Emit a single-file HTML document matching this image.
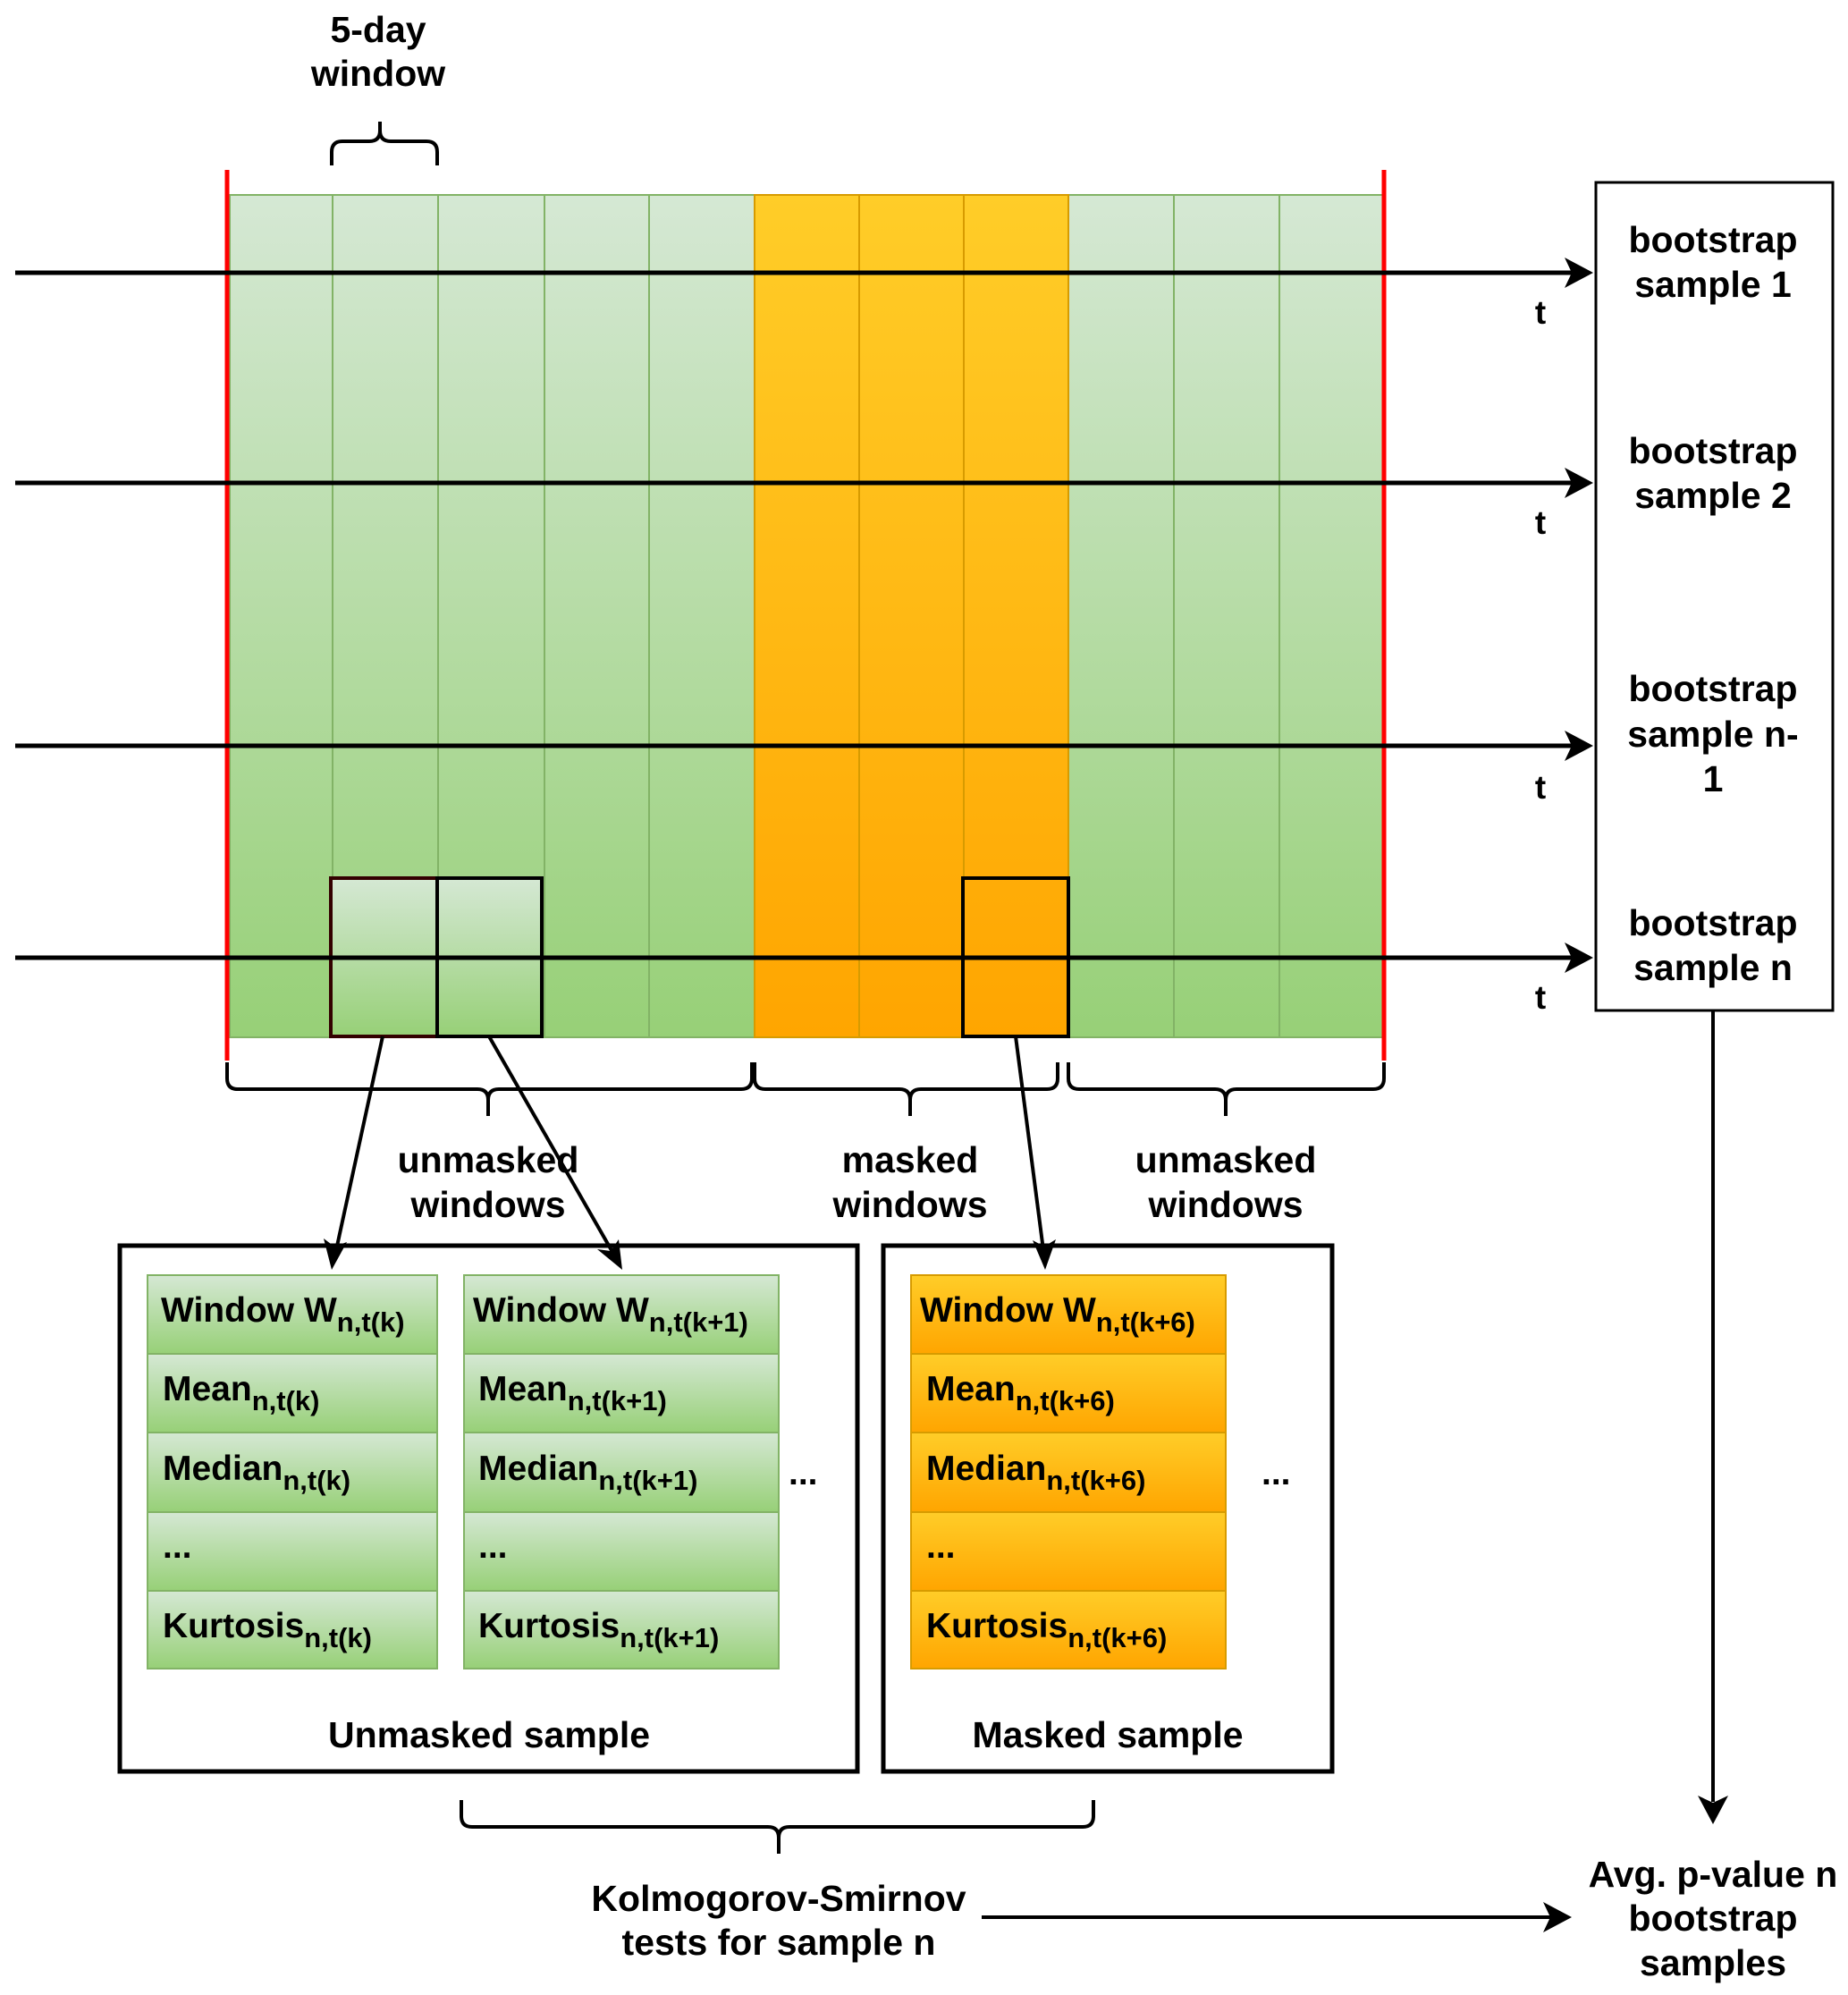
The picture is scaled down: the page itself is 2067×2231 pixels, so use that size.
<!DOCTYPE html>
<html><head><meta charset="utf-8"><style>body{margin:0;background:#fff}svg{display:block}text{font-family:"Liberation Sans",sans-serif;font-weight:bold;fill:#000}</style></head><body>
<svg width="2067" height="2231" viewBox="0 0 2067 2231" xmlns="http://www.w3.org/2000/svg">
<defs>
<linearGradient id="g" x1="0" y1="0" x2="0" y2="1"><stop offset="0" stop-color="#d5e8d4"/><stop offset="1" stop-color="#97d077"/></linearGradient>
<linearGradient id="o" x1="0" y1="0" x2="0" y2="1"><stop offset="0" stop-color="#ffcd28"/><stop offset="1" stop-color="#ffa500"/></linearGradient>
</defs>
<g stroke="#82b366" stroke-width="2">
<rect x="257" y="218" width="587" height="942" fill="url(#g)"/>
<rect x="1195" y="218" width="353" height="942" fill="url(#g)"/>
<line x1="372" y1="218" x2="372" y2="1160"/><line x1="490" y1="218" x2="490" y2="1160"/><line x1="609" y1="218" x2="609" y2="1160"/><line x1="726" y1="218" x2="726" y2="1160"/>
<line x1="1313" y1="218" x2="1313" y2="1160"/><line x1="1431" y1="218" x2="1431" y2="1160"/>
</g>
<g stroke="#d79b00" stroke-width="2">
<rect x="844" y="218" width="351" height="942" fill="url(#o)"/>
<line x1="961" y1="218" x2="961" y2="1160"/><line x1="1078" y1="218" x2="1078" y2="1160"/>
</g>
<rect x="370" y="982" width="119" height="177" fill="url(#g)" stroke="#330000" stroke-width="4"/>
<rect x="489" y="982" width="117" height="177" fill="url(#g)" stroke="#000" stroke-width="4"/>
<rect x="1077" y="982" width="118" height="177" fill="none" stroke="#000" stroke-width="4"/>
<line x1="254" y1="190" x2="254" y2="1186" stroke="#ff0000" stroke-width="5"/>
<line x1="1548" y1="190" x2="1548" y2="1186" stroke="#ff0000" stroke-width="5"/>
<g stroke="#000" stroke-width="5">
<line x1="17" y1="305" x2="1770" y2="305"/><line x1="17" y1="540" x2="1770" y2="540"/><line x1="17" y1="834" x2="1770" y2="834"/><line x1="17" y1="1071" x2="1770" y2="1071"/>
</g>
<g fill="#000">
<path d="M1782,305 l-32,-17 l8,17 l-8,17z"/><path d="M1782,540 l-32,-17 l8,17 l-8,17z"/><path d="M1782,834 l-32,-17 l8,17 l-8,17z"/><path d="M1782,1071 l-32,-17 l8,17 l-8,17z"/>
</g>
<g font-size="37" text-anchor="middle">
<text x="1723" y="362">t</text><text x="1723" y="597">t</text><text x="1723" y="893">t</text><text x="1723" y="1128">t</text>
</g>
<rect x="1785" y="204" width="265" height="926" fill="#fff" stroke="#000" stroke-width="3"/>
<g font-size="41" text-anchor="middle">
<text x="1916" y="282">bootstrap</text><text x="1916" y="332">sample 1</text>
<text x="1916" y="518">bootstrap</text><text x="1916" y="568">sample 2</text>
<text x="1916" y="784">bootstrap</text><text x="1916" y="835">sample n-</text><text x="1916" y="885">1</text>
<text x="1916" y="1046">bootstrap</text><text x="1916" y="1096">sample n</text>
<text x="423" y="47">5-day</text><text x="423" y="96">window</text>
<text x="546" y="1311">unmasked</text><text x="546" y="1361">windows</text>
<text x="1018" y="1311">masked</text><text x="1018" y="1361">windows</text>
<text x="1371" y="1311">unmasked</text><text x="1371" y="1361">windows</text>
</g>
<g fill="none" stroke="#000" stroke-width="4">
<path d="M371,185 v-15 q0,-12 12,-12 h30 q12,0 12,-12 v-10 v10 q0,12 12,12 h40 q12,0 12,12 v15"/>
<path d="M254,1188 v18 q0,12 12,12 h268 q12,0 12,12 v18 v-18 q0,-12 12,-12 h271 q12,0 12,-12 v-18"/>
<path d="M844,1188 v18 q0,12 12,12 h150 q12,0 12,12 v18 v-18 q0,-12 12,-12 h141 q12,0 12,-12 v-18"/>
<path d="M1195,1188 v18 q0,12 12,12 h152 q12,0 12,12 v18 v-18 q0,-12 12,-12 h153 q12,0 12,-12 v-18"/>
<path d="M516,2013 v18 q0,12 12,12 h331 q12,0 12,12 v18 v-18 q0,-12 12,-12 h328 q12,0 12,-12 v-18"/>
</g>
<rect x="134" y="1393" width="825" height="588" fill="#fff" stroke="#000" stroke-width="5"/>
<rect x="988" y="1393" width="502" height="588" fill="#fff" stroke="#000" stroke-width="5"/>
<g stroke="#82b366" stroke-width="2" fill="url(#g)">
<rect x="165" y="1426" width="324" height="88"/><rect x="165" y="1514" width="324" height="88"/><rect x="165" y="1602" width="324" height="89"/><rect x="165" y="1691" width="324" height="88"/><rect x="165" y="1779" width="324" height="87"/>
<rect x="519" y="1426" width="352" height="88"/><rect x="519" y="1514" width="352" height="88"/><rect x="519" y="1602" width="352" height="89"/><rect x="519" y="1691" width="352" height="88"/><rect x="519" y="1779" width="352" height="87"/>
</g>
<g stroke="#d79b00" stroke-width="2" fill="url(#o)">
<rect x="1019" y="1426" width="352" height="88"/><rect x="1019" y="1514" width="352" height="88"/><rect x="1019" y="1602" width="352" height="89"/><rect x="1019" y="1691" width="352" height="88"/><rect x="1019" y="1779" width="352" height="87"/>
</g>
<g font-size="39">
<text x="180" y="1478">Window W<tspan font-size="31" dy="11">n,t(k)</tspan></text>
<text x="182" y="1566">Mean<tspan font-size="31" dy="11">n,t(k)</tspan></text>
<text x="182" y="1655">Median<tspan font-size="31" dy="11">n,t(k)</tspan></text>
<text x="182" y="1742">...</text>
<text x="182" y="1831">Kurtosis<tspan font-size="31" dy="11">n,t(k)</tspan></text>
<text x="529" y="1478">Window W<tspan font-size="31" dy="11">n,t(k+1)</tspan></text>
<text x="535" y="1566">Mean<tspan font-size="31" dy="11">n,t(k+1)</tspan></text>
<text x="535" y="1655">Median<tspan font-size="31" dy="11">n,t(k+1)</tspan></text>
<text x="535" y="1742">...</text>
<text x="535" y="1831">Kurtosis<tspan font-size="31" dy="11">n,t(k+1)</tspan></text>
<text x="1029" y="1478">Window W<tspan font-size="31" dy="11">n,t(k+6)</tspan></text>
<text x="1036" y="1566">Mean<tspan font-size="31" dy="11">n,t(k+6)</tspan></text>
<text x="1036" y="1655">Median<tspan font-size="31" dy="11">n,t(k+6)</tspan></text>
<text x="1036" y="1742">...</text>
<text x="1036" y="1831">Kurtosis<tspan font-size="31" dy="11">n,t(k+6)</tspan></text>
<text x="882" y="1660">...</text><text x="1411" y="1660">...</text>
</g>
<g font-size="41" text-anchor="middle">
<text x="547" y="1954">Unmasked sample</text><text x="1239" y="1954">Masked sample</text>
<text x="871" y="2137">Kolmogorov-Smirnov</text><text x="871" y="2186">tests for sample n</text>
<text x="1916" y="2110">Avg. p-value n</text><text x="1916" y="2159">bootstrap</text><text x="1916" y="2209">samples</text>
</g>
<g stroke="#000" stroke-width="4">
<line x1="428" y1="1159" x2="376" y2="1398"/>
<line x1="547" y1="1159" x2="685" y2="1400"/>
<line x1="1136" y1="1159" x2="1167" y2="1398"/>
<line x1="1916" y1="1130" x2="1916" y2="2015"/>
<line x1="1098" y1="2144" x2="1735" y2="2144"/>
</g>
<g fill="#000">
<path d="M371,1420 l-9,-35 l12,9 l14,-5z"/>
<path d="M696,1420 l-28,-23 l15,2 l9,-13z"/>
<path d="M1169,1420 l-14,-33 l13,7 l13,-8z"/>
<path d="M1916,2040 l-17,-32 l17,8 l17,-8z"/>
<path d="M1758,2144 l-32,-17 l8,17 l-8,17z"/>
</g>
</svg>
</body></html>
